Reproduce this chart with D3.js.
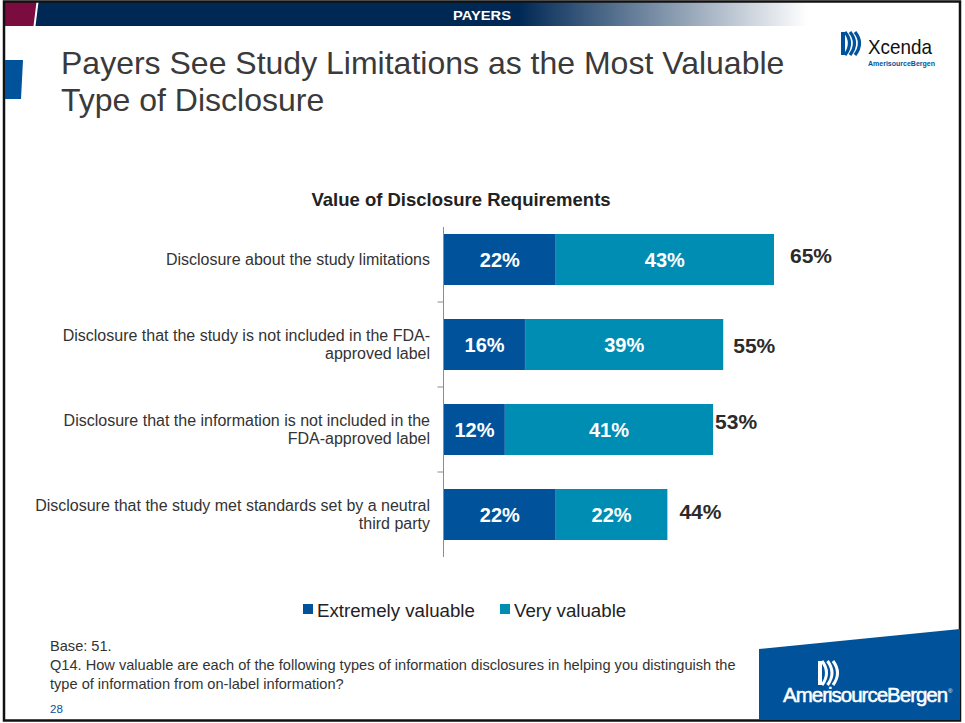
<!DOCTYPE html>
<html>
<head>
<meta charset="utf-8">
<script src="https://cdn.jsdelivr.net/npm/d3@7"></script>
<style>
  html, body { margin: 0; padding: 0; background: #fff; }
  svg { display: block; }
  text { font-family: "Liberation Sans", Arial, sans-serif; }
</style>
</head>
<body>
<svg id="slide" width="965" height="723"></svg>
<script>
// Survey results: share of payers rating each disclosure type
const categories = [
  ["Disclosure about the study limitations"],
  ["Disclosure that the study is not included in the FDA-", "approved label"],
  ["Disclosure that the information is not included in the", "FDA-approved label"],
  ["Disclosure that the study met standards set by a neutral", "third party"]
];
const extremelyValuable = [22, 16, 12, 22];
const veryValuable = [43, 39, 41, 22];
const totals = [65, 55, 53, 44];
const seriesNames = ["Extremely valuable", "Very valuable"];

const colors = { extreme: "#00539b", very: "#008db4", navy: "#002855", maroon: "#7b0c3f", text: "#333333" };

const svg = d3.select("#slide");

// ---- slide frame and header band ----
const defs = svg.append("defs");
const grad = defs.append("linearGradient").attr("id", "hdrFade").attr("x1", "0").attr("x2", "1");
grad.append("stop").attr("offset", "0").attr("stop-color", colors.navy);
grad.append("stop").attr("offset", "0.64").attr("stop-color", colors.navy);
grad.append("stop").attr("offset", "1").attr("stop-color", "#ffffff");

svg.append("rect").attr("x", 3).attr("y", 2).attr("width", 805).attr("height", 24).attr("fill", "url(#hdrFade)");
svg.append("polygon").attr("points", "3,2 37,2 34,26 3,26").attr("fill", colors.maroon);
svg.append("line").attr("x1", 37.5).attr("y1", 2).attr("x2", 34.5).attr("y2", 26).attr("stroke", "#fff").attr("stroke-width", 2);
svg.append("text").attr("x", 482).attr("y", 19.5).attr("text-anchor", "middle")
  .attr("fill", "#fff").attr("font-size", 13.5).attr("font-weight", "bold")
  .attr("textLength", 58).attr("lengthAdjust", "spacingAndGlyphs")
  .text("PAYERS");

svg.append("rect").attr("x", 4).attr("y", 1.5).attr("width", 956).attr("height", 719)
  .attr("fill", "none").attr("stroke", "#111").attr("stroke-width", 2.5);

// left accent bar
svg.append("polygon").attr("points", "5,60 23,60 21,99 5,99").attr("fill", colors.extreme);

// slide title
const title = svg.append("text").attr("fill", "#3a3a3a").attr("font-size", 32);
title.append("tspan").attr("x", 61).attr("y", 74).text("Payers See Study Limitations as the Most Valuable");
title.append("tspan").attr("x", 61).attr("y", 111).text("Type of Disclosure");

// Xcenda mark
const xl = svg.append("g").attr("transform", "translate(841,32)");
xl.append("rect").attr("x", 0).attr("y", 0).attr("width", 4).attr("height", 23).attr("fill", colors.extreme);
[0, 1, 2].forEach(i => {
  xl.append("path")
    .attr("d", `M${4 + i * 5},23 Q${13 + i * 5},11 ${4 + i * 5},0`)
    .attr("fill", "none").attr("stroke", colors.extreme).attr("stroke-width", 3.2);
});
xl.append("text").attr("x", 27).attr("y", 22).attr("font-size", 21).attr("fill", "#111")
  .attr("textLength", 64).attr("lengthAdjust", "spacingAndGlyphs").text("Xcenda");
xl.append("text").attr("x", 27).attr("y", 33.5).attr("font-size", 7.5).attr("font-weight", "bold")
  .attr("fill", colors.extreme).attr("textLength", 67).attr("lengthAdjust", "spacingAndGlyphs")
  .text("AmerisourceBergen");

// ---- chart ----
const x = d3.scaleLinear().domain([0, 100]).range([444, 444 + 507.7]);
const y = d3.scaleBand().domain(d3.range(categories.length)).range([217, 557]).paddingInner(0.4).paddingOuter(0.2);

svg.append("text").attr("x", 461).attr("y", 206).attr("text-anchor", "middle")
  .attr("font-size", 18.5).attr("font-weight", "bold").attr("fill", "#222")
  .text("Value of Disclosure Requirements");

const rows = categories.map((c, i) => ({
  i, label: c, segs: [
    { name: seriesNames[0], x0: 0, x1: extremelyValuable[i], color: colors.extreme },
    { name: seriesNames[1], x0: extremelyValuable[i], x1: extremelyValuable[i] + veryValuable[i], color: colors.very }
  ], total: totals[i]
}));

const rowG = svg.selectAll("g.row").data(rows).join("g").attr("class", "row");

rowG.selectAll("rect").data(d => d.segs.map(s => ({ ...s, i: d.i }))).join("rect")
  .attr("x", s => x(s.x0)).attr("width", s => x(s.x1) - x(s.x0))
  .attr("y", s => y(s.i)).attr("height", y.bandwidth())
  .attr("fill", s => s.color);

// thin separator between segments
rowG.append("line")
  .attr("x1", d => x(d.segs[1].x0)).attr("x2", d => x(d.segs[1].x0))
  .attr("y1", d => y(d.i)).attr("y2", d => y(d.i) + y.bandwidth())
  .attr("stroke", "#3a78b8").attr("stroke-width", 1);

rowG.selectAll("text.seg").data(d => d.segs.map(s => ({ ...s, i: d.i }))).join("text")
  .attr("class", "seg")
  .attr("x", s => (x(s.x0) + x(s.x1)) / 2)
  .attr("y", s => y(s.i) + y.bandwidth() / 2 + 7)
  .attr("text-anchor", "middle").attr("fill", "#fff")
  .attr("font-size", 20).attr("font-weight", "bold")
  .text(s => (s.x1 - s.x0) + "%");

// hand-placed total labels sit slightly apart from each bar end
const totalNudge = [[16, -4], [10, 1], [2, -8], [12, -3]];
rowG.append("text")
  .attr("x", d => x(d.total) + totalNudge[d.i][0])
  .attr("y", d => y(d.i) + y.bandwidth() / 2 + 7 + totalNudge[d.i][1])
  .attr("font-size", 21).attr("font-weight", "bold").attr("fill", "#2b2b2b")
  .text(d => d.total + "%");

// category labels
rowG.each(function (d) {
  const t = d3.select(this).append("text").attr("text-anchor", "end")
    .attr("font-size", 16).attr("fill", colors.text);
  const lh = 18.5;
  const cy = y(d.i) + y.bandwidth() / 2 + 5.5 - (d.label.length - 1) * lh / 2;
  d.label.forEach((line, k) => t.append("tspan").attr("x", 430).attr("y", cy + k * lh).text(line));
});

// vertical category axis with boundary ticks
const axis = d3.axisLeft(y).tickSize(0).tickFormat("");
const ag = svg.append("g").attr("transform", "translate(443.5,0)").call(axis);
ag.select(".domain").attr("stroke", "#8c8c8c").attr("d", `M0,${227}V${557}`);
y.domain().slice(1).forEach(i => {
  const by = y(i) - y.step() * y.paddingInner() / 2;
  ag.append("line").attr("x1", -6).attr("x2", 0).attr("y1", by).attr("y2", by).attr("stroke", "#8c8c8c");
});

// legend
const lg = svg.append("g");
const legendX = [303, 500];
seriesNames.forEach((n, k) => {
  lg.append("rect").attr("x", legendX[k]).attr("y", 604).attr("width", 10).attr("height", 10)
    .attr("fill", k === 0 ? colors.extreme : colors.very);
  lg.append("text").attr("x", legendX[k] + 14).attr("y", 617).attr("font-size", 18.7).attr("fill", "#222").text(n);
});

// footnotes
const fn = svg.append("g").attr("fill", "#333").attr("font-size", 14.6);
fn.append("text").attr("x", 50).attr("y", 651).text("Base: 51.");
fn.append("text").attr("x", 50).attr("y", 670).text("Q14. How valuable are each of the following types of information disclosures in helping you distinguish the");
fn.append("text").attr("x", 50).attr("y", 689).text("type of information from on-label information?");
fn.append("text").attr("x", 50).attr("y", 713).attr("font-size", 11.5).attr("fill", colors.extreme).text("28");

// corporate block, bottom right
svg.append("polygon").attr("points", "759,649 960,629 960,720 759,720").attr("fill", colors.extreme);
const ab = svg.append("g").attr("transform", "translate(818,661)");
ab.append("rect").attr("x", 0).attr("y", 0).attr("width", 4).attr("height", 24).attr("fill", "#fff");
[0, 1, 2].forEach(i => {
  ab.append("path").attr("d", `M${4 + i * 5.5},24 Q${13 + i * 5.5},12 ${4 + i * 5.5},0`)
    .attr("fill", "none").attr("stroke", "#fff").attr("stroke-width", 3);
});
svg.append("text").attr("x", 783).attr("y", 702).attr("font-size", 20.5).attr("fill", "#fff")
  .attr("stroke", "#fff").attr("stroke-width", 0.5).attr("letter-spacing", -1).text("AmerisourceBergen");
svg.append("text").attr("x", 948).attr("y", 693).attr("font-size", 6).attr("fill", "#fff").text("®");
</script>
</body>
</html>
